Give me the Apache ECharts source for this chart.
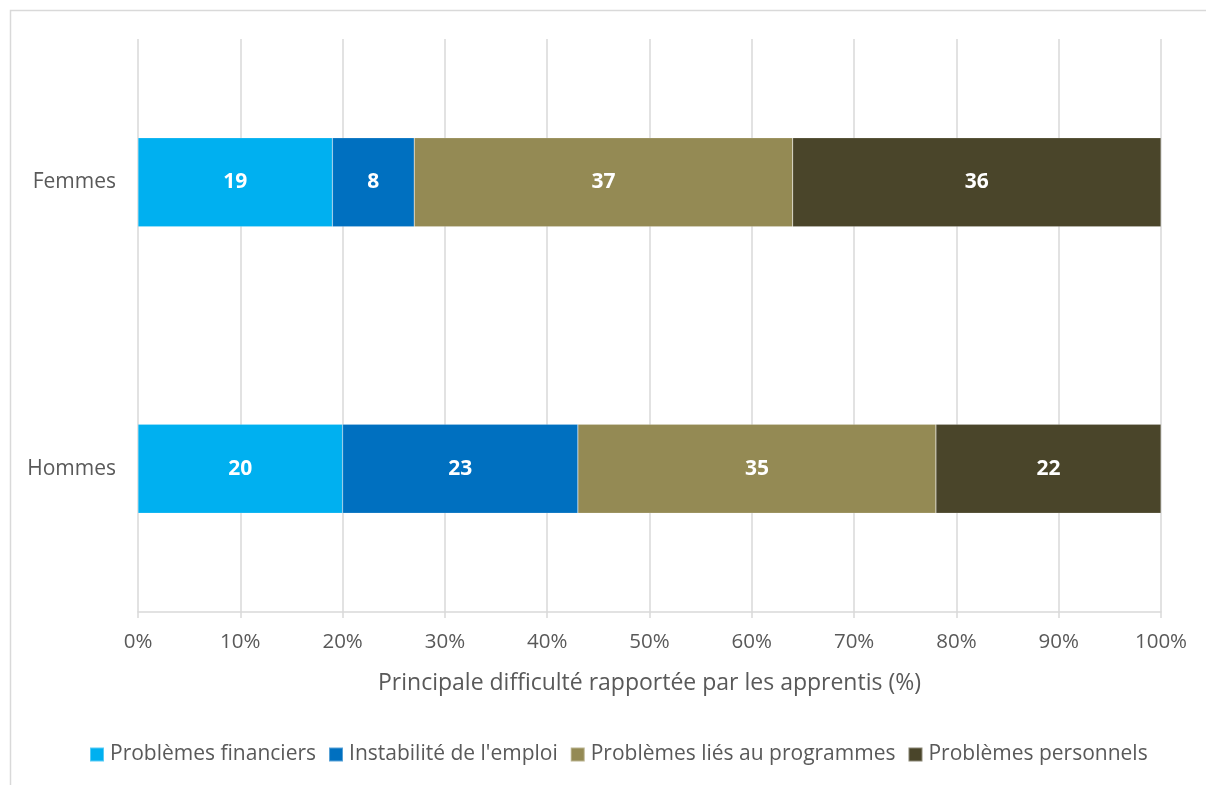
<!DOCTYPE html>
<html>
<head>
<meta charset="utf-8">
<script src="https://cdn.jsdelivr.net/npm/echarts@6/dist/echarts.min.js"></script>
<style>
  html, body { margin: 0; padding: 0; background: #ffffff; }
  #chart { width: 1206px; height: 785px; }
</style>
</head>
<body>
<div id="chart"></div>
<script>
// Groups shown on the vertical axis (bottom to top)
const groups = ['Hommes', 'Femmes'];

// Share of apprentices (%) per main difficulty, in the order of `groups`
const seriesNames = [
  'Problèmes financiers',
  "Instabilité de l'emploi",
  'Problèmes liés au programmes',
  'Problèmes personnels'
];
const financiers = [20, 19];
const instabilite = [23, 8];
const programmes = [35, 37];
const personnels = [22, 36];

const tickLabels = ['0%', '10%', '20%', '30%', '40%', '50%', '60%', '70%', '80%', '90%', '100%'];

const colors = ['#00B0F0', '#0070C0', '#948A54', '#4A452A'];
const values = [financiers, instabilite, programmes, personnels];

const FONT = '"Open Sans", "DejaVu Sans", sans-serif';

const chart = echarts.init(document.getElementById('chart'));

chart.setOption({
  animation: false,
  backgroundColor: '#ffffff',
  textStyle: { fontFamily: FONT },
  graphic: [{
    type: 'rect',
    shape: { x: 10.5, y: 10.5, width: 1220, height: 800 },
    style: { fill: 'none', stroke: '#d9d9d9', lineWidth: 1.5 },
    silent: true,
    z: -1
  }],
  grid: { left: 138, right: 45, top: 39, bottom: 173, containLabel: false },
  legend: {
    bottom: 15,
    left: 84,
    itemWidth: 14,
    itemHeight: 14,
    itemGap: 12,
    icon: 'rect',
    textStyle: { color: '#595959', fontSize: 21, fontFamily: FONT, padding: [0, 0, 0, 1] },
    data: seriesNames
  },
  xAxis: {
    type: 'value',
    min: 0,
    max: 100,
    interval: 10,
    name: 'Principale difficulté rapportée par les apprentis (%)',
    nameLocation: 'middle',
    nameGap: 60,
    nameTextStyle: { color: '#595959', fontSize: 23, fontFamily: FONT },
    axisLine: { show: true, lineStyle: { color: '#d9d9d9', width: 1.5 } },
    axisTick: { show: true, length: 6, lineStyle: { color: '#d9d9d9', width: 1.5 } },
    axisLabel: {
      color: '#595959', fontSize: 20.5, margin: 20, fontFamily: FONT,
      formatter: (v) => tickLabels[Math.round(v / 10)]
    },
    splitLine: { show: true, lineStyle: { color: '#d9d9d9', width: 1.5 } }
  },
  yAxis: {
    type: 'category',
    data: groups,
    axisLine: { show: false },
    axisTick: { show: false },
    axisLabel: { color: '#595959', fontSize: 21, margin: 22, fontFamily: FONT },
    splitLine: { show: false }
  },
  series: seriesNames.map((name, i) => ({
    name: name,
    type: 'bar',
    stack: 'total',
    barWidth: 89,
    data: values[i],
    itemStyle: { color: colors[i], borderColor: 'rgba(255,255,255,0.35)', borderWidth: 0.5 },
    label: {
      show: true,
      position: 'inside',
      color: '#ffffff',
      fontWeight: 'bold',
      fontSize: 21,
      fontFamily: FONT
    }
  }))
});
</script>
</body>
</html>
